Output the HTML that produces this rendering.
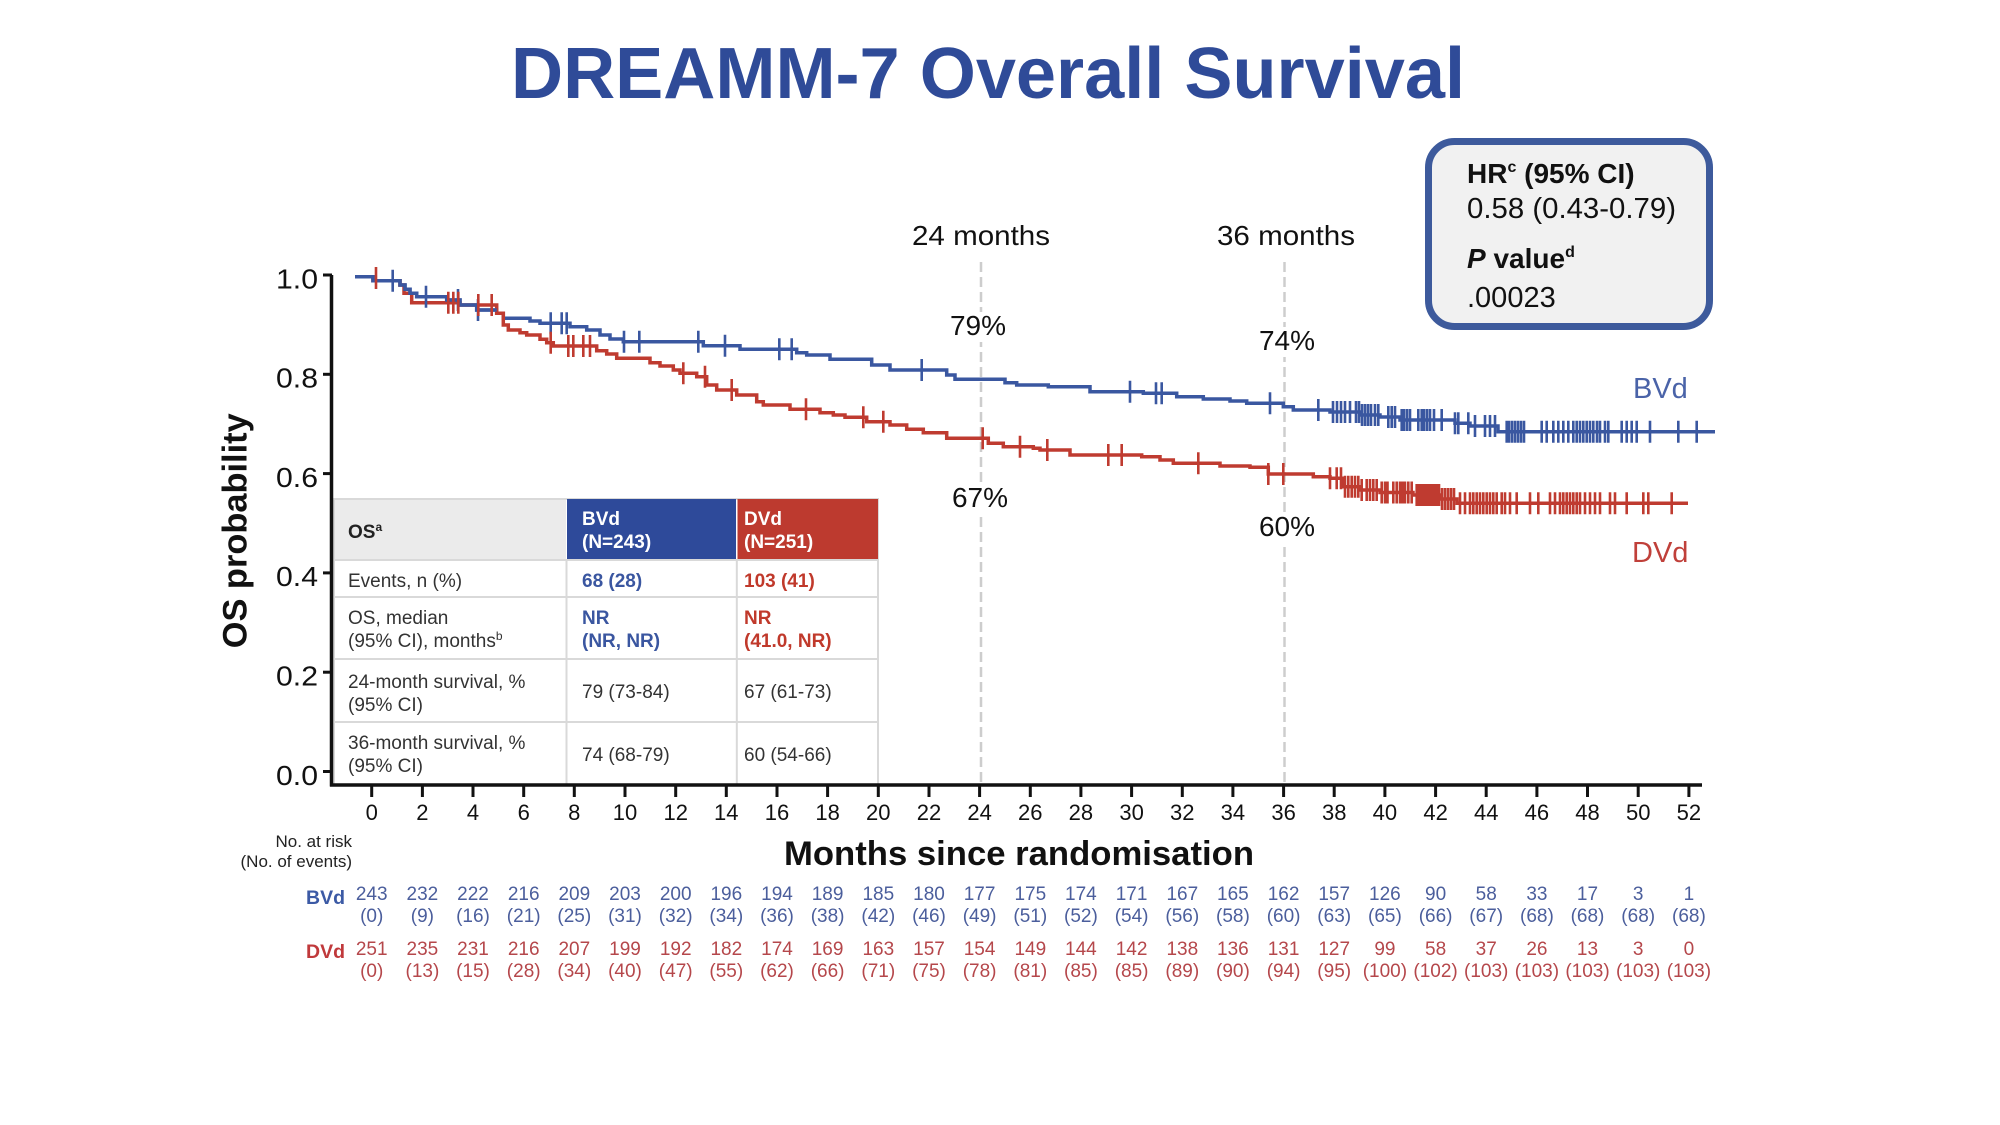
<!DOCTYPE html>
<html><head><meta charset="utf-8"><style>
html,body{margin:0;padding:0;background:#fff;}
svg{display:block;font-family:"Liberation Sans",Arial,sans-serif;}
</style></head><body>
<svg width="2000" height="1125" viewBox="0 0 2000 1125" xmlns="http://www.w3.org/2000/svg">
<rect width="2000" height="1125" fill="#fff"/>
<!-- Title -->
<text x="988" y="98" text-anchor="middle" font-size="72" font-weight="bold" fill="#2f4b98" textLength="954" lengthAdjust="spacingAndGlyphs">DREAMM-7 Overall Survival</text>

<!-- HR box -->
<rect x="1428.5" y="141.5" width="281" height="185" rx="26" ry="26" fill="#f1f1f1" stroke="#3d5a9c" stroke-width="7"/>
<text x="1467" y="183" font-size="28" font-weight="bold" fill="#111">HR<tspan font-size="16" dy="-11">c</tspan><tspan dy="11"> (95% CI)</tspan></text>
<text x="1467" y="218" font-size="29" fill="#111" textLength="209" lengthAdjust="spacingAndGlyphs">0.58 (0.43-0.79)</text>
<text x="1467" y="268" font-size="28" font-weight="bold" fill="#111"><tspan font-style="italic">P</tspan> value<tspan font-size="16" dy="-11">d</tspan></text>
<text x="1467" y="307" font-size="29" fill="#111">.00023</text>

<!-- dashed reference lines -->
<g stroke="#cdcdcd" stroke-width="2.5" stroke-dasharray="10 5" fill="none">
<line x1="981" y1="262" x2="981" y2="785"/>
<line x1="1284.5" y1="262" x2="1284.5" y2="785"/>
</g>
<!-- white behind pct labels -->
<g fill="#fff">
<rect x="948" y="312" width="62" height="30"/>
<rect x="1256" y="327" width="62" height="30"/>
<rect x="948" y="483" width="64" height="30"/>
<rect x="1256" y="512" width="62" height="30"/>
</g>
<g font-size="28" fill="#111" text-anchor="middle">
<text x="981" y="245" textLength="138" lengthAdjust="spacingAndGlyphs">24 months</text>
<text x="1286" y="245" textLength="138" lengthAdjust="spacingAndGlyphs">36 months</text>
<text x="978" y="335">79%</text>
<text x="1287" y="350">74%</text>
<text x="980" y="507">67%</text>
<text x="1287" y="536">60%</text>
</g>

<!-- Curves -->
<path fill="none" stroke="#3a57a0" stroke-width="3.5" stroke-linejoin="miter" d="M355 276.7 H373 V280.7 H400 V285 H405 V289.3 H410 V293.3 H416.7 V296.7 H446.7 V300 H460 V305 H476.7 V310 H496.7 V313.3 H503.3 V318.3 H530 V321 H540 V323.3 H570 V326.7 H586.7 V330 H600 V335 H610 V339 H623.3 V341.7 H703.3 V345.7 H740 V349.3 H796.7 V352.7 H806.7 V355 H830 V359.3 H871.7 V365 H890 V370 H946.7 V375 H955 V379.3 H1005 V382.7 H1016.7 V385 H1048.3 V386.7 H1090 V391.7 H1143.3 V393.3 H1176.7 V396.7 H1203.3 V399 H1230 V401 H1246.7 V403.3 H1283.3 V406.7 H1293.3 V410 H1330 V412 H1360 V415 H1380 V417 H1400 V420 H1455 V423.3 H1470 V426 H1498 V431.7 H1715"/>
<path fill="none" stroke="#bf3b30" stroke-width="3.5" d="M355 276.7 H373 V280.7 H400 V285 H404 V293.3 H411.7 V302.7 H460 V305 H496.7 V313.3 H503.3 V325 H508.3 V330 H520 V332.7 H526.7 V335 H540 V339.3 H546.7 V342.7 H553.3 V346 H596.7 V350.7 H606.7 V354 H616.7 V358.3 H650 V362.7 H660 V366 H673.3 V370 H680 V373.3 H696.7 V376.7 H706.7 V385 H716.7 V390 H736.7 V395 H756.7 V401.7 H763.3 V405 H790 V409.3 H820 V412.7 H833.3 V415 H845 V417.3 H866.7 V421.7 H890 V425 H906.7 V429.3 H923.3 V432.7 H946.7 V438.3 H988.3 V443.3 H1003.3 V446.7 H1033.3 V448.3 H1040 V450 H1070 V455 H1141.7 V456.7 H1160 V460 H1173.3 V463.3 H1220 V466 H1250 V467.3 H1268.3 V474 H1313.3 V476.7 H1330 V478.3 H1343 V486.7 H1360 V490 H1380 V492.5 H1413 V495 H1440 V499 H1457 V503.3 H1688"/>
<!-- the overlapping early segment drawn in blue on top -->
<path fill="none" stroke="#3a57a0" stroke-width="3.5" d="M355 276.7 H373 V280.7 H400 V285 H405 V289.3 H410 V293.3 H416.7 V296.7 H446.7 V300 H460 V305 H476.7 V310 H496.7"/>

<!-- Censor ticks blue -->
<path fill="none" stroke="#3a57a0" stroke-width="2.6" d="
M392.7 269.7v22 M426 285.7v22 M458 289v22 M478 299v22 M550.7 312.3v22 M561.7 312.3v22 M566.7 312.3v22 M624 330.7v22 M639.3 330.7v22 M698.3 330.7v22 M725 334.7v22 M779.3 338.3v22 M791.7 338.3v22 M921.7 359v22 M1130 380.7v22 M1156 382.3v22 M1161.7 382.3v22 M1270 392.3v22
M1318.3 399v22 M1333 401v22 M1337 401v22 M1341 401v22 M1345 401v22 M1350 401v22 M1356 401v22 M1359 401v22
M1362 404v22 M1365 404v22 M1368 404v22 M1371 404v22 M1375 404v22 M1378.3 404v22
M1388.3 406v22 M1391.7 406v22 M1395 406v22
M1401.7 409v22 M1404 409v22 M1407 409v22 M1410 409v22 M1418.3 409v22 M1421.7 409v22 M1424 409v22 M1427 409v22 M1430 409v22 M1434 409v22 M1441.7 409v22
M1455 412.3v22 M1458.3 412.3v22 M1468.3 412.3v22 M1475 415v22 M1485 415v22 M1490 415v22 M1495 415v22
M1506.7 420.7v22 M1509 420.7v22 M1512 420.7v22 M1515 420.7v22 M1518 420.7v22 M1521 420.7v22 M1524 420.7v22 M1541.7 420.7v22 M1546.7 420.7v22 M1553.3 420.7v22 M1558.3 420.7v22 M1563.3 420.7v22 M1568.3 420.7v22 M1573.3 420.7v22 M1576.7 420.7v22 M1580 420.7v22 M1583.3 420.7v22 M1586.7 420.7v22 M1590 420.7v22 M1593.3 420.7v22 M1597 420.7v22 M1600 420.7v22 M1605 420.7v22 M1608.3 420.7v22 M1621.7 420.7v22 M1626.7 420.7v22 M1631.7 420.7v22 M1636.7 420.7v22 M1650 420.7v22 M1678.3 420.7v22 M1696.7 420.7v22"/>
<!-- Censor ticks red -->
<path fill="none" stroke="#bf3b30" stroke-width="2.6" d="
M376 267v22 M448.3 291.7v22 M453.3 291.7v22 M458.3 291.7v22 M478.3 294v22 M491.7 294v22 M550.7 331.7v22 M568.3 335v22 M573.3 335v22 M583.3 335v22 M590 335v22 M683.3 362.3v22 M705 365.7v22 M731.7 379v22 M806 398.3v22 M863.3 406.3v22 M883.3 410.7v22 M982.7 427.3v22 M1020 435.7v22 M1047.3 439v22 M1108.3 444v22 M1121.7 444v22 M1198.3 452.3v22 M1268.3 463v22 M1283.3 463v22 M1330 467.3v22 M1336.7 467.3v22 M1341 467.3v22
M1345 475.7v22 M1348.3 475.7v22 M1351.7 475.7v22 M1355 475.7v22 M1358.3 475.7v22
M1361.7 479v22 M1366.7 479v22 M1370 479v22 M1373.3 479v22 M1376.7 479v22
M1381.7 481.5v22 M1385 481.5v22 M1387.5 481.5v22 M1393.3 481.5v22 M1396.7 481.5v22 M1400 481.5v22 M1402.5 481.5v22 M1405 481.5v22 M1408.3 481.5v22 M1411.7 481.5v22
M1416.7 484v22 M1419 484v22 M1421.5 484v22 M1424 484v22 M1426.5 484v22 M1429 484v22 M1431.5 484v22 M1434 484v22 M1436.5 484v22 M1439 484v22
M1442 488v22 M1445 488v22 M1448 488v22 M1451 488v22 M1454 488v22
M1460 492.3v22 M1465 492.3v22 M1470 492.3v22 M1473.3 492.3v22 M1476.7 492.3v22 M1480 492.3v22 M1483.3 492.3v22 M1486.7 492.3v22 M1490 492.3v22 M1493.3 492.3v22 M1496.7 492.3v22 M1501.7 492.3v22 M1505 492.3v22 M1510 492.3v22 M1516.7 492.3v22 M1530 492.3v22 M1538.3 492.3v22 M1550 492.3v22 M1555 492.3v22 M1560 492.3v22 M1563.3 492.3v22 M1566.7 492.3v22 M1570 492.3v22 M1573.3 492.3v22 M1576.7 492.3v22 M1580 492.3v22 M1585 492.3v22 M1590 492.3v22 M1595 492.3v22 M1600 492.3v22 M1610 492.3v22 M1615 492.3v22 M1626.7 492.3v22 M1643.3 492.3v22 M1648.3 492.3v22 M1671.7 492.3v22"/>

<!-- Curve labels -->
<text x="1633" y="398" font-size="29" fill="#4a63a8">BVd</text>
<text x="1632" y="562" font-size="29" fill="#c0403a">DVd</text>

<!-- Table -->
<rect x="334" y="499" width="544" height="286" fill="#fff" stroke="#d9d9d9" stroke-width="2"/>
<rect x="335" y="500" width="231" height="60" fill="#ebebeb"/>
<rect x="567" y="499" width="169" height="61" fill="#2e4a9a"/>
<rect x="737.5" y="499" width="140.5" height="61" fill="#bd3a2f"/>
<g stroke="#d9d9d9" stroke-width="2">
<line x1="334" y1="560" x2="878" y2="560"/>
<line x1="334" y1="597" x2="878" y2="597"/>
<line x1="334" y1="659" x2="878" y2="659"/>
<line x1="334" y1="722" x2="878" y2="722"/>
<line x1="566.5" y1="560" x2="566.5" y2="785"/>
<line x1="736.8" y1="560" x2="736.8" y2="785"/>
</g>
<g font-size="19" fill="#333">
<text x="348" y="538" font-weight="bold" fill="#222">OS<tspan font-size="12" dy="-7">a</tspan></text>
<text x="582" y="525" font-weight="bold" fill="#fff">BVd</text>
<text x="582" y="548" font-weight="bold" fill="#fff">(N=243)</text>
<text x="744" y="525" font-weight="bold" fill="#fff">DVd</text>
<text x="744" y="548" font-weight="bold" fill="#fff">(N=251)</text>
<text x="348" y="587">Events, n (%)</text>
<text x="582" y="587" font-weight="bold" fill="#3a56a0">68 (28)</text>
<text x="744" y="587" font-weight="bold" fill="#c0392b">103 (41)</text>
<text x="348" y="624">OS, median</text>
<text x="348" y="647">(95% CI), months<tspan font-size="12" dy="-7">b</tspan></text>
<text x="582" y="624" font-weight="bold" fill="#3a56a0">NR</text>
<text x="582" y="647" font-weight="bold" fill="#3a56a0">(NR, NR)</text>
<text x="744" y="624" font-weight="bold" fill="#c0392b">NR</text>
<text x="744" y="647" font-weight="bold" fill="#c0392b">(41.0, NR)</text>
<text x="348" y="688">24-month survival, %</text>
<text x="348" y="711">(95% CI)</text>
<text x="582" y="698">79 (73-84)</text>
<text x="744" y="698">67 (61-73)</text>
<text x="348" y="749">36-month survival, %</text>
<text x="348" y="772">(95% CI)</text>
<text x="582" y="761">74 (68-79)</text>
<text x="744" y="761">60 (54-66)</text>
</g>

<!-- Axes -->
<g stroke="#111" stroke-width="3.5" fill="none">
<line x1="331.5" y1="275" x2="331.5" y2="786.5"/>
<line x1="330" y1="785" x2="1702" y2="785"/>
</g>
<g stroke="#111" stroke-width="3">
<line x1="323" y1="275" x2="332" y2="275"/>
<line x1="323" y1="374.3" x2="332" y2="374.3"/>
<line x1="323" y1="473.6" x2="332" y2="473.6"/>
<line x1="323" y1="572.9" x2="332" y2="572.9"/>
<line x1="323" y1="672.2" x2="332" y2="672.2"/>
<line x1="323" y1="771.5" x2="332" y2="771.5"/>
</g>
<g font-size="28" fill="#111" text-anchor="end">
<text x="318" y="288.3" textLength="42" lengthAdjust="spacingAndGlyphs">1.0</text>
<text x="318" y="387.6" textLength="42" lengthAdjust="spacingAndGlyphs">0.8</text>
<text x="318" y="486.9" textLength="42" lengthAdjust="spacingAndGlyphs">0.6</text>
<text x="318" y="586.2" textLength="42" lengthAdjust="spacingAndGlyphs">0.4</text>
<text x="318" y="685.5" textLength="42" lengthAdjust="spacingAndGlyphs">0.2</text>
<text x="318" y="784.8" textLength="42" lengthAdjust="spacingAndGlyphs">0.0</text>
</g>
<text transform="translate(246.7,530.8) rotate(-90)" text-anchor="middle" font-size="34" font-weight="bold" fill="#111" textLength="235" lengthAdjust="spacingAndGlyphs">OS probability</text>

<!-- X ticks -->
<path stroke="#111" stroke-width="3" d="M371.7 786v11 M422.4 786v11 M473 786v11 M523.7 786v11 M574.3 786v11 M625 786v11 M675.7 786v11 M726.3 786v11 M777 786v11 M827.6 786v11 M878.3 786v11 M929 786v11 M979.6 786v11 M1030.3 786v11 M1080.9 786v11 M1131.6 786v11 M1182.3 786v11 M1232.9 786v11 M1283.6 786v11 M1334.2 786v11 M1384.9 786v11 M1435.6 786v11 M1486.2 786v11 M1536.9 786v11 M1587.5 786v11 M1638.2 786v11 M1688.9 786v11"/>
<g font-size="22" fill="#111" text-anchor="middle">
<text x="371.7" y="820">0</text><text x="422.4" y="820">2</text><text x="473" y="820">4</text><text x="523.7" y="820">6</text><text x="574.3" y="820">8</text><text x="625" y="820">10</text><text x="675.7" y="820">12</text><text x="726.3" y="820">14</text><text x="777" y="820">16</text><text x="827.6" y="820">18</text><text x="878.3" y="820">20</text><text x="929" y="820">22</text><text x="979.6" y="820">24</text><text x="1030.3" y="820">26</text><text x="1080.9" y="820">28</text><text x="1131.6" y="820">30</text><text x="1182.3" y="820">32</text><text x="1232.9" y="820">34</text><text x="1283.6" y="820">36</text><text x="1334.2" y="820">38</text><text x="1384.9" y="820">40</text><text x="1435.6" y="820">42</text><text x="1486.2" y="820">44</text><text x="1536.9" y="820">46</text><text x="1587.5" y="820">48</text><text x="1638.2" y="820">50</text><text x="1688.9" y="820">52</text>
</g>
<text x="1019" y="865" text-anchor="middle" font-size="34" font-weight="bold" fill="#111" textLength="470" lengthAdjust="spacingAndGlyphs">Months since randomisation</text>

<!-- Number at risk -->
<g font-size="17" fill="#222" text-anchor="end">
<text x="352" y="847">No. at risk</text>
<text x="352" y="867">(No. of events)</text>
</g>
<text x="345" y="904" text-anchor="end" font-size="19.5" font-weight="bold" fill="#3c5aa5">BVd</text>
<text x="345" y="958" text-anchor="end" font-size="19.5" font-weight="bold" fill="#c0393b">DVd</text>
<g font-size="19" fill="#4b5e9c" text-anchor="middle">
<text x="371.7" y="900">243</text><text x="422.4" y="900">232</text><text x="473" y="900">222</text><text x="523.7" y="900">216</text><text x="574.3" y="900">209</text><text x="625" y="900">203</text><text x="675.7" y="900">200</text><text x="726.3" y="900">196</text><text x="777" y="900">194</text><text x="827.6" y="900">189</text><text x="878.3" y="900">185</text><text x="929" y="900">180</text><text x="979.6" y="900">177</text><text x="1030.3" y="900">175</text><text x="1080.9" y="900">174</text><text x="1131.6" y="900">171</text><text x="1182.3" y="900">167</text><text x="1232.9" y="900">165</text><text x="1283.6" y="900">162</text><text x="1334.2" y="900">157</text><text x="1384.9" y="900">126</text><text x="1435.6" y="900">90</text><text x="1486.2" y="900">58</text><text x="1536.9" y="900">33</text><text x="1587.5" y="900">17</text><text x="1638.2" y="900">3</text><text x="1688.9" y="900">1</text>
<text x="371.7" y="922">(0)</text><text x="422.4" y="922">(9)</text><text x="473" y="922">(16)</text><text x="523.7" y="922">(21)</text><text x="574.3" y="922">(25)</text><text x="625" y="922">(31)</text><text x="675.7" y="922">(32)</text><text x="726.3" y="922">(34)</text><text x="777" y="922">(36)</text><text x="827.6" y="922">(38)</text><text x="878.3" y="922">(42)</text><text x="929" y="922">(46)</text><text x="979.6" y="922">(49)</text><text x="1030.3" y="922">(51)</text><text x="1080.9" y="922">(52)</text><text x="1131.6" y="922">(54)</text><text x="1182.3" y="922">(56)</text><text x="1232.9" y="922">(58)</text><text x="1283.6" y="922">(60)</text><text x="1334.2" y="922">(63)</text><text x="1384.9" y="922">(65)</text><text x="1435.6" y="922">(66)</text><text x="1486.2" y="922">(67)</text><text x="1536.9" y="922">(68)</text><text x="1587.5" y="922">(68)</text><text x="1638.2" y="922">(68)</text><text x="1688.9" y="922">(68)</text>
</g>
<g font-size="19" fill="#b5474b" text-anchor="middle">
<text x="371.7" y="955">251</text><text x="422.4" y="955">235</text><text x="473" y="955">231</text><text x="523.7" y="955">216</text><text x="574.3" y="955">207</text><text x="625" y="955">199</text><text x="675.7" y="955">192</text><text x="726.3" y="955">182</text><text x="777" y="955">174</text><text x="827.6" y="955">169</text><text x="878.3" y="955">163</text><text x="929" y="955">157</text><text x="979.6" y="955">154</text><text x="1030.3" y="955">149</text><text x="1080.9" y="955">144</text><text x="1131.6" y="955">142</text><text x="1182.3" y="955">138</text><text x="1232.9" y="955">136</text><text x="1283.6" y="955">131</text><text x="1334.2" y="955">127</text><text x="1384.9" y="955">99</text><text x="1435.6" y="955">58</text><text x="1486.2" y="955">37</text><text x="1536.9" y="955">26</text><text x="1587.5" y="955">13</text><text x="1638.2" y="955">3</text><text x="1688.9" y="955">0</text>
<text x="371.7" y="977">(0)</text><text x="422.4" y="977">(13)</text><text x="473" y="977">(15)</text><text x="523.7" y="977">(28)</text><text x="574.3" y="977">(34)</text><text x="625" y="977">(40)</text><text x="675.7" y="977">(47)</text><text x="726.3" y="977">(55)</text><text x="777" y="977">(62)</text><text x="827.6" y="977">(66)</text><text x="878.3" y="977">(71)</text><text x="929" y="977">(75)</text><text x="979.6" y="977">(78)</text><text x="1030.3" y="977">(81)</text><text x="1080.9" y="977">(85)</text><text x="1131.6" y="977">(85)</text><text x="1182.3" y="977">(89)</text><text x="1232.9" y="977">(90)</text><text x="1283.6" y="977">(94)</text><text x="1334.2" y="977">(95)</text><text x="1384.9" y="977">(100)</text><text x="1435.6" y="977">(102)</text><text x="1486.2" y="977">(103)</text><text x="1536.9" y="977">(103)</text><text x="1587.5" y="977">(103)</text><text x="1638.2" y="977">(103)</text><text x="1688.9" y="977">(103)</text>
</g>
</svg>
</body></html>
